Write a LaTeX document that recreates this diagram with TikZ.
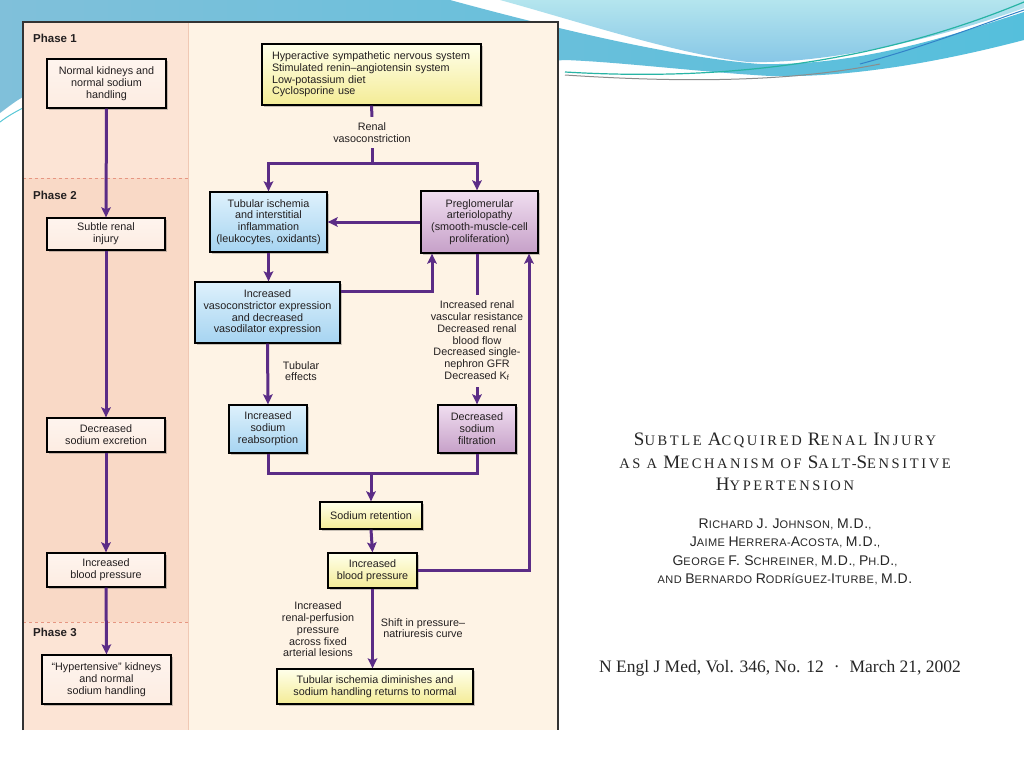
\documentclass[tikz,border=0pt]{standalone}
\usepackage{fontspec}
\setmainfont{Liberation Sans}
\newfontfamily\tserif{Liberation Serif}
\newfontfamily\tserifsp[LetterSpace=18]{Liberation Serif}
\newfontfamily\asans[LetterSpace=4]{Liberation Sans}
\usetikzlibrary{arrows.meta,shadows,calc}
\definecolor{arrc}{HTML}{5B2C86}
\definecolor{txt}{HTML}{231F20}
\definecolor{peachA}{HTML}{FCE4D5}
\definecolor{peachB}{HTML}{F9D9C6}
\definecolor{cream}{HTML}{FEF3E5}
\definecolor{bandL}{HTML}{80C0DA}
\definecolor{bandR}{HTML}{55BFDC}
\definecolor{waveT}{HTML}{B4E5EE}
\definecolor{waveB}{HTML}{86C6E6}
\newcommand\BigC[1]{{\fontsize{19}{19}\selectfont #1}}
\newcommand\AC[1]{{\fontsize{14}{14}\selectfont #1}}
\tikzset{
  box/.style={draw=black, line width=1.3pt, inner sep=0pt, align=center,
    font=\fontsize{10.8}{12}\selectfont, text=txt,
    drop shadow={shadow xshift=2pt, shadow yshift=-2pt, opacity=0.3, fill=black!70}},
  lbox/.style={box, top color=white!60!peachA, bottom color=peachA!70!white},
  ybox/.style={box, top color=yellow!8!white, bottom color={rgb,255:red,244;green,236;blue,150}},
  bbox/.style={box, top color={rgb,255:red,222;green,241;blue,252}, bottom color={rgb,255:red,166;green,212;blue,241}},
  pbox/.style={box, top color={rgb,255:red,240;green,222;blue,240}, bottom color={rgb,255:red,198;green,160;blue,200}},
  lab/.style={inner sep=0pt, align=center, font=\fontsize{10.8}{11.7}\selectfont, text=txt},
  phase/.style={inner sep=0pt, anchor=west, font=\bfseries\fontsize{11.5}{12}\selectfont, text=txt},
  conn/.style={draw=arrc, line width=3pt},
  aconn/.style={conn, -{Stealth[length=10pt,width=9.5pt,inset=2pt]}},
}
\begin{document}
\begin{tikzpicture}[x=1pt,y=-1pt]
\useasboundingbox (0,0) rectangle (1024,768);
\fill[white] (0,0) rectangle (1024,768);
% decorative swooshes
\shade[top color=waveT, bottom color=waveB] (500,0) -- (1024,0) -- (1024,8)
  .. controls (930,42) and (820,64) .. (748,62)
  .. controls (680,55) and (580,22) .. (500,0) -- cycle;
\shade[left color=bandL, right color=bandR] (0,0) -- (450,0)
  .. controls (560,30) and (680,58) .. (760,64)
  .. controls (860,66) and (950,36) .. (1024,12) -- (1024,40)
  .. controls (940,62) and (850,78) .. (770,76)
  .. controls (700,72) and (620,62) .. (565,60)
  -- (23,97) .. controls (14,102) and (7,108) .. (0,113) -- cycle;
\draw[color={rgb,255:red,40;green,180;blue,165}, line width=1.2pt] (565,72) .. controls (700,80) and (860,70) .. (1024,2);
\draw[color={rgb,255:red,140;green,140;blue,140}, line width=1pt] (565,75) .. controls (700,84) and (800,80) .. (880,64);
\draw[color={rgb,255:red,50;green,130;blue,200}, line width=1pt] (860,64) .. controls (930,45) and (980,25) .. (1024,10);
\draw[color={rgb,255:red,90;green,200;blue,215}, line width=1pt] (0,122) .. controls (8,116) and (15,112) .. (23,108);
% frame
\fill[peachA] (23,22) rectangle (188,178);
\fill[peachB] (23,178) rectangle (188,622);
\fill[peachA] (23,622) rectangle (188,730);
\fill[cream] (188,22) rectangle (558,730);
\draw[color={rgb,255:red,240;green,200;blue,180}, line width=0.6pt] (188,22) -- (188,730);
\draw[color={rgb,255:red,230;green,150;blue,130}, dashed, line width=0.8pt] (23,178) -- (188,178);
\draw[color={rgb,255:red,230;green,150;blue,130}, dashed, line width=0.8pt] (23,622) -- (188,622);
\draw[black!80, line width=1.2pt] (23,730) -- (23,22) -- (558,22) -- (558,730);
% phase labels
\node[phase] (ph1) at (33,38) {Phase 1};
\node[phase] (ph2) at (33,195) {Phase 2};
\node[phase] (ph3) at (33,632) {Phase 3};
% left column
\node[lbox, minimum width=119pt, minimum height=49pt] (L1) at (106.5,83.5) {Normal kidneys and\\normal sodium\\handling};
\node[lbox, minimum width=118pt, minimum height=32pt] (L2) at (106,234) {Subtle renal\\injury};
\node[lbox, minimum width=118pt, minimum height=34pt] (L3) at (106,435) {Decreased\\sodium excretion};
\node[lbox, minimum width=118pt, minimum height=34pt] (L4) at (106,570) {Increased\\blood pressure};
\node[lbox, minimum width=129pt, minimum height=49pt] (L5) at (106.5,679.5) {“Hypertensive” kidneys\\and normal\\sodium handling};
% right column
\node[ybox, text width=203pt, inner xsep=8pt, minimum height=61pt, align=left, font=\fontsize{10.8}{11.7}\selectfont] (Y1) at (371.5,74.5) {\hspace*{2pt}Hyperactive sympathetic nervous system\\\hspace*{2pt}Stimulated renin–angiotensin system\\\hspace*{2pt}Low-potassium diet\\\hspace*{2pt}Cyclosporine use};
\node[lab, minimum height=31pt] (lab1) at (372,132.5) {Renal\\vasoconstriction};
\node[bbox, minimum width=117pt, minimum height=60pt, font=\fontsize{10.8}{11.7}\selectfont] (B1) at (268.5,222) {Tubular ischemia\\and interstitial\\inflammation\\(leukocytes, oxidants)};
\node[pbox, minimum width=117pt, minimum height=62pt, font=\fontsize{10.8}{11.7}\selectfont] (P1) at (479.5,222) {Preglomerular\\arteriolopathy\\(smooth-muscle-cell\\proliferation)};
\node[bbox, minimum width=145pt, minimum height=61pt, font=\fontsize{10.8}{11.7}\selectfont] (B2) at (267.5,312.5) {Increased\\vasoconstrictor expression\\and decreased\\vasodilator expression};
\node[lab] (lab3) at (301,371) {Tubular\\effects};
\node[lab, minimum height=92pt] (lab2) at (477,341) {Increased renal\\vascular resistance\\Decreased renal\\blood flow\\Decreased single-\\nephron GFR\\Decreased K\textsubscript{f}};
\node[bbox, minimum width=78pt, minimum height=48pt] (B3) at (268,429) {Increased\\sodium\\reabsorption};
\node[pbox, minimum width=78pt, minimum height=48pt] (P2) at (477,429) {Decreased\\sodium\\filtration};
\node[ybox, minimum width=102pt, minimum height=27pt] (Y2) at (371,515.5) {Sodium retention};
\node[ybox, minimum width=89pt, minimum height=35pt] (Y3) at (372.5,570.5) {Increased\\blood pressure};
\node[ybox, minimum width=196pt, minimum height=35pt] (Y4) at (375,686.5) {Tubular ischemia diminishes and\\sodium handling returns to normal};
\node[lab] (lab4) at (318,629.5) {Increased\\renal-perfusion\\pressure\\across fixed\\arterial lesions};
\node[lab] (lab5) at (423,628) {Shift in pressure–\\natriuresis curve};
% connectors left
\draw[aconn] (L1.south) -- (L2.north);
\draw[aconn] (L2.south) -- (L3.north);
\draw[aconn] (L3.south) -- (L4.north);
\draw[aconn] (L4.south) -- (L5.north);
% connectors right
\draw[conn] (Y1.south) -- (lab1.north);
\coordinate (j1) at ($(lab1.south)+(0,15)$);
\draw[conn] (lab1.south) -- (j1);
\draw[aconn] (j1) -| (B1.north);
\draw[aconn] (j1) -| ([xshift=-2.5pt]P1.north);
\draw[aconn] (P1.west) -- (B1.east);
\draw[aconn] (B1.south) -- (B1.south |- B2.north);
\draw[aconn] ($(B2.north east)+(0,10)$) -| ([xshift=-47.5pt]P1.south);
\draw[conn] ([xshift=-2.5pt]P1.south) -- (lab2.north);
\draw[aconn] (lab2.south) -- (P2.north);
\draw[aconn] (B2.south) -- (B3.north);
\coordinate (j2) at ($(B3.south)+(0,20)$);
\draw[conn] (B3.south) -- (j2) -| (P2.south);
\draw[aconn] (j2 -| Y2.north) -- (Y2.north);
\draw[aconn] (Y2.south) -- (Y3.north);
\draw[aconn] (Y3.east) -| ([xshift=49.5pt]P1.south);
\draw[aconn] (Y3.south) -- (Y3.south |- Y4.north);
% title panel
\node[inner sep=0pt, align=center, text=black!85, font=\tserifsp\fontsize{14.5}{22.5}\selectfont] (title) at (785,462) {\BigC{S}UBTLE \BigC{A}CQUIRED \BigC{R}ENAL \BigC{I}NJURY\\AS A \BigC{M}ECHANISM OF \BigC{S}ALT-\BigC{S}ENSITIVE\\\BigC{H}YPERTENSION};
\node[inner sep=0pt, align=center, text=black!85, font=\asans\fontsize{11}{18.5}\selectfont] (authors) at (785,552) {\AC{R}ICHARD \AC{J. J}OHNSON, \AC{M.D.},\\\AC{J}AIME \AC{H}ERRERA-\AC{A}COSTA, \AC{M.D.},\\\AC{G}EORGE \AC{F. S}CHREINER, \AC{M.D.}, \AC{P}H.\AC{D.},\\AND \AC{B}ERNARDO \AC{R}ODRÍGUEZ-\AC{I}TURBE, \AC{M.D.}};
\node[inner sep=0pt, text=black!85, font=\tserif\fontsize{17.5}{17.5}\selectfont] (cite) at (780,668) {N Engl J Med, Vol. 346, No. 12\hspace{10pt}·\hspace{10pt}March 21, 2002};
\end{tikzpicture}
\end{document}
